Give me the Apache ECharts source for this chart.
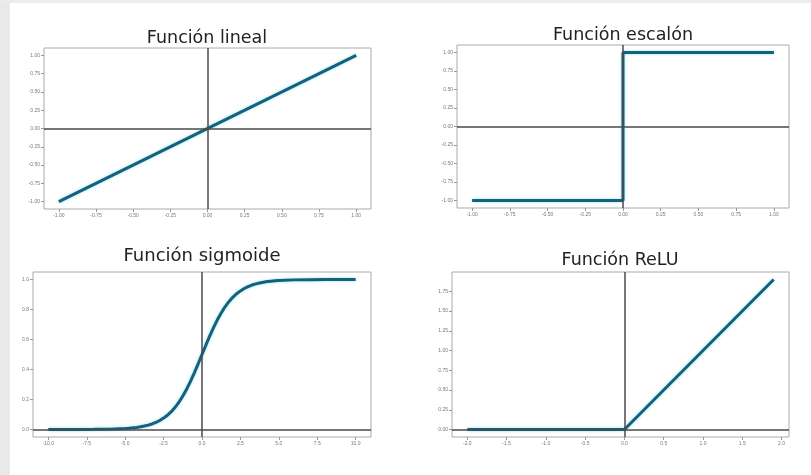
<!DOCTYPE html>
<html>
<head>
<meta charset="utf-8">
<script src="https://cdn.jsdelivr.net/npm/echarts@6/dist/echarts.min.js"></script>
<style>
	html, body { margin: 0; padding: 0; background: #fff; }
	#chart { width: 811px; height: 475px; }
</style>
</head>
<body>
<div id="chart"></div>
<script>
let titles = ['Función lineal', 'Función escalón', 'Función sigmoide', 'Función ReLU'];

let linealX = [-1, 1];
let linealY = [-1, 1];

let escalonX = [-1, 0, 0, 1];
let escalonY = [-1, -1, 1, 1];

// denser around the centre
let sigmoideX = [-10, -9, -8, -7, -6, -5, -4.75, -4.5, -4.25, -4, -3.75, -3.5, -3.25, -3, -2.75, -2.5,
	-2.25, -2, -1.75, -1.5, -1.25, -1, -0.75, -0.5, -0.25, 0, 0.25, 0.5, 0.75, 1, 1.25, 1.5, 1.75, 2,
	2.25, 2.5, 2.75, 3, 3.25, 3.5, 3.75, 4, 4.25, 4.5, 4.75, 5, 6, 7, 8, 9, 10];
let sigmoideY = [0.0, 0.0001, 0.0003, 0.0009, 0.0025, 0.0067, 0.0086, 0.011, 0.014, 0.018, 0.023, 0.029,
	0.037, 0.047, 0.060, 0.076, 0.095, 0.119, 0.148, 0.182, 0.223, 0.269, 0.321, 0.378, 0.438, 0.5,
	0.562, 0.622, 0.679, 0.731, 0.777, 0.818, 0.852, 0.881, 0.905, 0.924, 0.940, 0.953, 0.963, 0.971,
	0.977, 0.982, 0.986, 0.989, 0.991, 0.993, 0.9975, 0.9991, 0.9997, 0.9999, 1.0];

let reluX = [-2, 0, 1.9];
let reluY = [0, 0, 1.9];

let ticksUnit = [-1, -0.75, -0.5, -0.25, 0, 0.25, 0.5, 0.75, 1];
let ticksSigX = [-10, -7.5, -5, -2.5, 0, 2.5, 5, 7.5, 10];
let ticksSigY = [0, 0.2, 0.4, 0.6, 0.8, 1.0];
let ticksReluX = [-2, -1.5, -1, -0.5, 0, 0.5, 1, 1.5, 2];
let ticksReluY = [0, 0.25, 0.5, 0.75, 1, 1.25, 1.5, 1.75];

let myChart = echarts.init(document.getElementById('chart'));

function pairs(xs, ys) {
	return xs.map((x, i) => [x, ys[i]]);
}

function axis(idx, min, max, ticks, digits) {
	return {
		type: 'value',
		gridIndex: idx,
		min: min,
		max: max,
		splitLine: { show: false },
		axisLine: { show: false, onZero: false },
		axisTick: {
			show: true,
			length: 3,
			customValues: ticks,
			lineStyle: { color: '#999' }
		},
		axisLabel: {
			customValues: ticks,
			fontSize: 5,
			color: '#777',
			margin: 4,
			formatter: v => v.toFixed(digits)
		}
	};
}

function line(idx, data) {
	return {
		type: 'line',
		xAxisIndex: idx,
		yAxisIndex: idx,
		data: data,
		showSymbol: false,
		lineStyle: {
			color: '#16607d',
			width: 3,
			shadowColor: 'rgba(0, 200, 230, 0.45)',
			shadowBlur: 3
		},
		markLine: {
			silent: true,
			symbol: 'none',
			label: { show: false },
			lineStyle: { color: '#4a4a4a', width: 1.5, type: 'solid' },
			data: [{ xAxis: 0 }, { yAxis: 0 }]
		},
		z: 3
	};
}

let gridBox = { show: true, borderColor: '#aaa', borderWidth: 1 };
let titleStyle = { fontSize: 17.5, fill: '#222', fontFamily: 'DejaVu Sans', textAlign: 'center', textVerticalAlign: 'middle' };

let option = {
	backgroundColor: '#fff',
	animation: false,
	graphic: [
		{ type: 'rect', shape: { x: 0, y: 0, width: 10, height: 475 }, style: { fill: '#e9e9e9' } },
		{ type: 'rect', shape: { x: 0, y: 0, width: 811, height: 3 }, style: { fill: '#ececec' } },
		{ type: 'text', x: 207, y: 38, style: Object.assign({ text: titles[0] }, titleStyle) },
		{ type: 'text', x: 623, y: 35, style: Object.assign({ text: titles[1] }, titleStyle) },
		{ type: 'text', x: 202, y: 256, style: Object.assign({ text: titles[2] }, titleStyle, { fontSize: 18 }) },
		{ type: 'text', x: 620, y: 260, style: Object.assign({ text: titles[3] }, titleStyle) }
	],
	grid: [
		Object.assign({ left: 44, top: 48, width: 327, height: 161 }, gridBox),
		Object.assign({ left: 457, top: 45, width: 332, height: 163 }, gridBox),
		Object.assign({ left: 33, top: 272, width: 338, height: 165 }, gridBox),
		Object.assign({ left: 452, top: 272, width: 337, height: 165 }, gridBox)
	],
	xAxis: [
		axis(0, -1.1, 1.1, ticksUnit, 2),
		axis(1, -1.1, 1.1, ticksUnit, 2),
		axis(2, -11, 11, ticksSigX, 1),
		axis(3, -2.195, 2.095, ticksReluX, 1)
	],
	yAxis: [
		axis(0, -1.1, 1.1, ticksUnit, 2),
		axis(1, -1.1, 1.1, ticksUnit, 2),
		axis(2, -0.05, 1.05, ticksSigY, 1),
		axis(3, -0.095, 1.995, ticksReluY, 2)
	],
	series: [
		line(0, pairs(linealX, linealY)),
		line(1, pairs(escalonX, escalonY)),
		line(2, pairs(sigmoideX, sigmoideY)),
		line(3, pairs(reluX, reluY))
	]
};

myChart.setOption(option);
</script>
</body>
</html>
